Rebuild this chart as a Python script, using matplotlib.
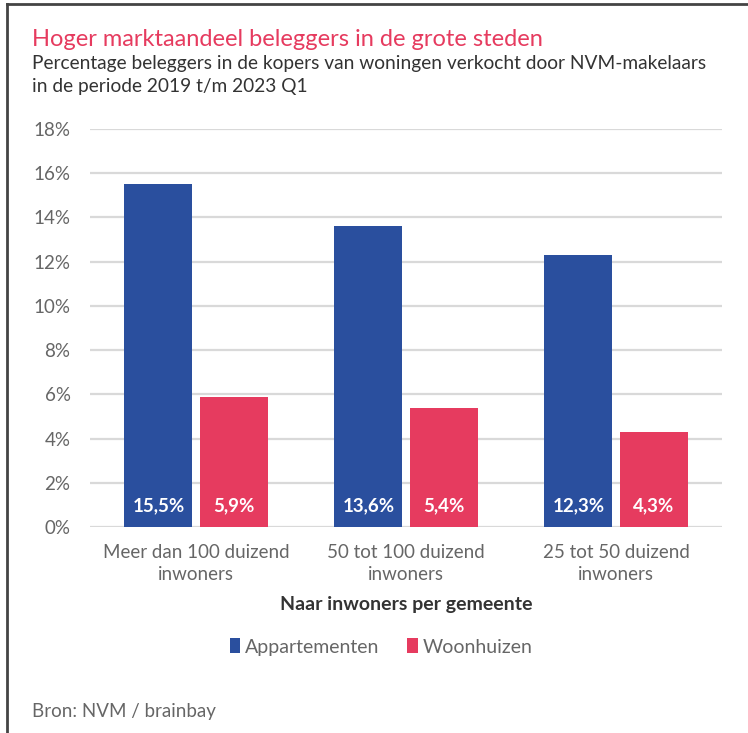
import matplotlib
matplotlib.use("Agg")
import matplotlib.pyplot as plt
import numpy as np

categories = ["Meer dan 100 duizend\ninwoners", "50 tot 100 duizend\ninwoners", "25 tot 50 duizend\ninwoners"]
appartementen = [15.5, 13.6, 12.3]
woonhuizen = [5.9, 5.4, 4.3]
series_names = ["Appartementen", "Woonhuizen"]
y_ticks = [0, 2, 4, 6, 8, 10, 12, 14, 16, 18]

BLUE = "#2a4f9e"
RED = "#e63b5f"
GREY = "#666666"
DARK = "#333333"

plt.rcParams["font.family"] = ["Lato", "DejaVu Sans"]

fig = plt.figure(figsize=(7.48, 7.33), dpi=100)
ax = fig.add_axes([90 / 748, 206 / 733, 632 / 748, 398 / 733])

x = np.arange(len(categories))
w = 0.324
gap = 0.017
b1 = ax.bar(x - w / 2 - gap, appartementen, w, color=BLUE, zorder=3, label=series_names[0])
b2 = ax.bar(x + w / 2 + gap, woonhuizen, w, color=RED, zorder=3, label=series_names[1])

for bars, vals in ((b1, appartementen), (b2, woonhuizen)):
    for bar, v in zip(bars, vals):
        ax.text(bar.get_x() + bar.get_width() / 2, 0.95, f"{v:.1f}%".replace(".", ","),
                ha="center", va="center", color="white", fontsize=13.5, fontweight="bold", zorder=4)

ax.set_xlim(-0.505, 2.505)
ax.set_ylim(0, 18)
ax.set_yticks(y_ticks)
ax.set_yticklabels([f"{t}%" for t in y_ticks])
ax.set_xticks(x)
ax.set_xticklabels(categories, linespacing=1.4)
ax.tick_params(axis="both", length=0, labelsize=13.5, colors=GREY)
ax.tick_params(axis="y", pad=14)
ax.tick_params(axis="x", pad=12)
ax.grid(axis="y", color="#d9d9d9", linewidth=1.6, zorder=0)
for s in ax.spines.values():
    s.set_visible(False)

ax.set_xlabel("Naar inwoners per gemeente", fontsize=14, fontweight="bold", color=DARK, labelpad=9)

fig.legend(handles=[b1, b2], labels=series_names, loc="center", bbox_to_anchor=(381 / 748, 1 - 647 / 733),
           ncol=2, frameon=False, fontsize=14, handlelength=0.55, handleheight=0.8,
           handletextpad=0.25, columnspacing=1.4, labelcolor=GREY)

fig.text(32 / 748, 1 - 40 / 733, "Hoger marktaandeel beleggers in de grote steden",
         color=RED, fontsize=17, va="center", ha="left")
fig.text(32 / 748, 1 - 75 / 733, "Percentage beleggers in de kopers van woningen verkocht door NVM-makelaars\nin de periode 2019 t/m 2023 Q1",
         color=DARK, fontsize=13.8, va="center", ha="left", linespacing=1.4)
fig.text(32 / 748, 1 - 712 / 733, "Bron: NVM / brainbay", color=GREY, fontsize=13.5, va="center", ha="left")

# frame lines at top and left
fig.add_artist(plt.Line2D([7 / 748, 1], [1 - 4 / 733, 1 - 4 / 733], color="#444444", linewidth=2))
fig.add_artist(plt.Line2D([7 / 748, 7 / 748], [0, 1 - 4 / 733], color="#444444", linewidth=2))

fig.savefig("out.png", dpi=100)
